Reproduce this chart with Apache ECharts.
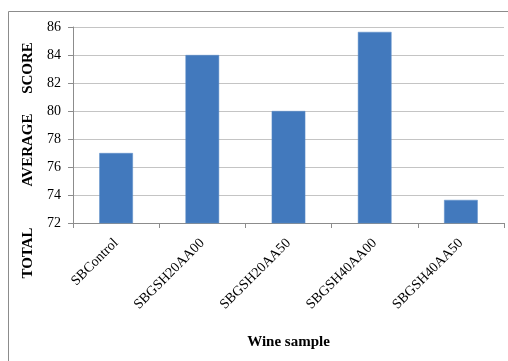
<!DOCTYPE html>
<html>
<head>
<meta charset="utf-8">
<script src="https://cdn.jsdelivr.net/npm/echarts@6/dist/echarts.min.js"></script>
<style>
html,body{margin:0;padding:0;background:#fff;}
#chart{width:508px;height:361px;}
</style>
</head>
<body>
<div id="chart"></div>
<script>
// Wine samples and their total average sensory scores
var categories = ['SBControl', 'SBGSH20AA00', 'SBGSH20AA50', 'SBGSH40AA00', 'SBGSH40AA50'];
var scores = [77, 84, 80, 85.65, 73.65];
var yTicks = [72, 74, 76, 78, 80, 82, 84, 86];
// Vertical axis title, set word by word with wide gaps
var yTitleWords = ['TOTAL', 'AVERAGE', 'SCORE'];

var serif = '"Liberation Serif", "Times New Roman", serif';
var chart = echarts.init(document.getElementById('chart'), null, {renderer: 'canvas'});

var titleCenters = [253, 150, 68];
var graphics = [{
  type: 'rect',
  shape: {x: 8.5, y: 11.5, width: 520, height: 380},
  style: {fill: 'none', stroke: '#8c8c8c', lineWidth: 1},
  silent: true
}];
yTitleWords.forEach(function (w, i) {
  graphics.push({
    type: 'text',
    x: 28, y: titleCenters[i],
    rotation: Math.PI / 2,
    style: {
      text: w, fill: '#000',
      font: 'bold 15px ' + serif,
      textAlign: 'center', textVerticalAlign: 'middle'
    },
    silent: true
  });
});

chart.setOption({
  animation: false,
  backgroundColor: '#ffffff',
  graphic: graphics,
  grid: {left: 73, right: 4, top: 27, bottom: 138},
  xAxis: {
    type: 'category',
    data: categories,
    name: 'Wine sample',
    nameLocation: 'middle',
    nameGap: 112,
    nameTextStyle: {fontFamily: serif, fontWeight: 'bold', fontSize: 15, color: '#000'},
    axisLine: {lineStyle: {color: '#8c8c8c', width: 1}},
    axisTick: {show: true, length: 5, alignWithLabel: false, lineStyle: {color: '#8c8c8c'}},
    axisLabel: {rotate: 45, fontFamily: serif, fontSize: 14, color: '#000', margin: 18, interval: 0}
  },
  yAxis: {
    type: 'value',
    min: yTicks[0],
    max: yTicks[yTicks.length - 1],
    interval: 2,
    axisLine: {show: true, lineStyle: {color: '#8c8c8c', width: 1}},
    axisTick: {show: true, length: 5, inside: false, lineStyle: {color: '#8c8c8c'}},
    axisLabel: {fontFamily: serif, fontSize: 14, color: '#000', margin: 12},
    splitLine: {show: true, lineStyle: {color: '#c4c4c4', width: 1}}
  },
  series: [{
    type: 'bar',
    data: scores,
    barWidth: '39%',
    itemStyle: {color: '#4279bd', borderColor: '#5a8cc8', borderWidth: 0.5}
  }]
});
</script>
</body>
</html>
